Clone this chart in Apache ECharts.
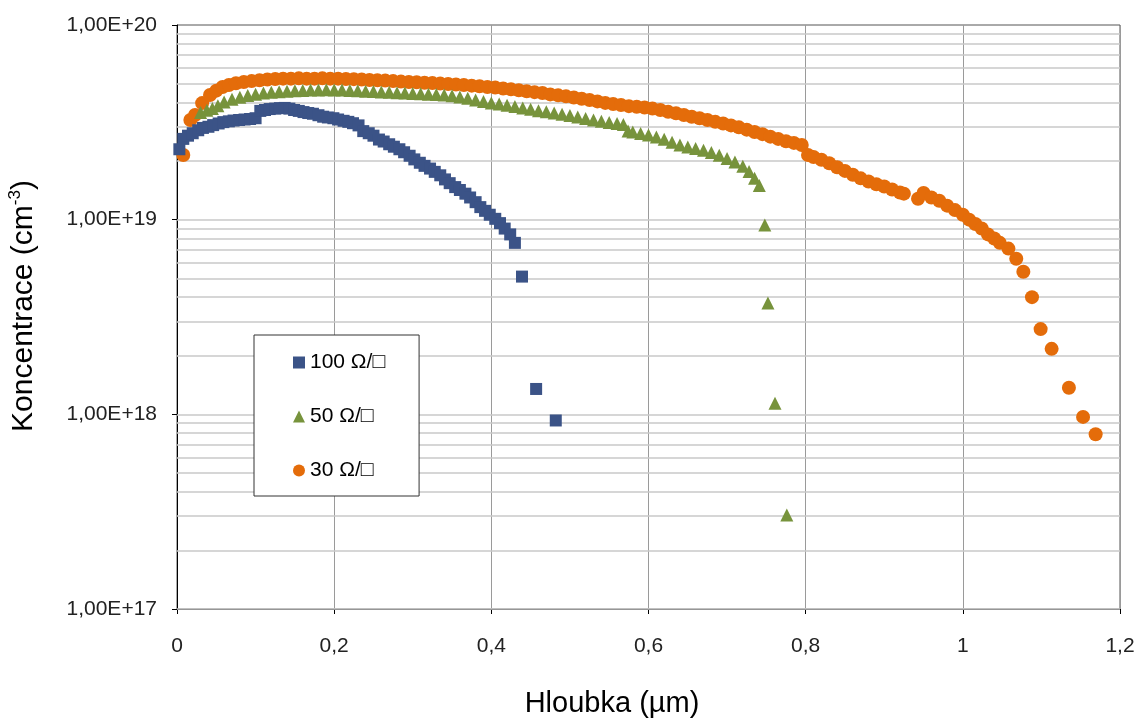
<!DOCTYPE html>
<html>
<head>
<meta charset="utf-8">
<script src="https://cdn.jsdelivr.net/npm/echarts@6/dist/echarts.min.js"></script>
<style>
  html, body { margin: 0; padding: 0; background: #fff; }
  #main { width: 1141px; height: 720px; }
</style>
</head>
<body>
<div id="main"></div>
<script>
// series names
const seriesNames = ['100 Ω/□', '50 Ω/□', '30 Ω/□']

// 100 Ω/□ – depth (µm) and concentration (cm-3)
const depth100 = [0.003, 0.008, 0.014, 0.020, 0.027, 0.033, 0.040, 0.046, 0.053, 0.059, 0.066, 0.072, 0.079, 0.086, 0.093, 0.100,
  0.106, 0.112, 0.118, 0.125, 0.131, 0.137, 0.143, 0.149, 0.155, 0.161, 0.167, 0.173, 0.180, 0.186, 0.192, 0.199, 0.205,
  0.212, 0.218, 0.224, 0.231, 0.237, 0.244, 0.250, 0.257, 0.263, 0.270, 0.276, 0.283, 0.289, 0.296, 0.302, 0.309, 0.315,
  0.322, 0.328, 0.335, 0.341, 0.347, 0.354, 0.360, 0.367, 0.373, 0.380, 0.386, 0.392, 0.398, 0.405, 0.411, 0.417, 0.424,
  0.430, 0.439, 0.457, 0.482]
const conc100 = [2.30e19, 2.60e19, 2.70e19, 2.78e19, 2.88e19, 2.96e19, 3.00e19, 3.06e19, 3.12e19, 3.17e19, 3.20e19, 3.23e19,
  3.25e19, 3.27e19, 3.29e19, 3.32e19, 3.62e19, 3.66e19, 3.70e19, 3.72e19, 3.74e19, 3.75e19, 3.72e19, 3.66e19, 3.62e19,
  3.57e19, 3.53e19, 3.50e19, 3.44e19, 3.38e19, 3.35e19, 3.32e19, 3.27e19, 3.22e19, 3.18e19, 3.13e19, 3.05e19, 2.85e19,
  2.78e19, 2.70e19, 2.58e19, 2.52e19, 2.44e19, 2.37e19, 2.30e19, 2.22e19, 2.13e19, 2.04e19, 1.96e19, 1.89e19, 1.83e19,
  1.76e19, 1.69e19, 1.61e19, 1.54e19, 1.47e19, 1.42e19, 1.36e19, 1.30e19, 1.23e19, 1.16e19, 1.11e19, 1.06e19, 1.01e19,
  9.6e18, 9.0e18, 8.4e18, 7.6e18, 5.1e18, 1.35e18, 9.3e17]

// 50 Ω/□
const depth50 = [0.030, 0.038, 0.045, 0.052, 0.060, 0.070, 0.080, 0.090, 0.100, 0.110, 0.120, 0.130, 0.140, 0.150, 0.160,
  0.170, 0.180, 0.190, 0.200, 0.210, 0.220, 0.230, 0.240, 0.250, 0.260, 0.270, 0.280, 0.290, 0.300, 0.310, 0.320, 0.330,
  0.340, 0.350, 0.360, 0.370, 0.380, 0.390, 0.400, 0.410, 0.420, 0.430, 0.440, 0.450, 0.460, 0.470, 0.480, 0.490, 0.500,
  0.510, 0.520, 0.530, 0.540, 0.550, 0.560, 0.568, 0.574, 0.580, 0.590, 0.600, 0.610, 0.620, 0.630, 0.640, 0.650, 0.660,
  0.670, 0.680, 0.690, 0.700, 0.710, 0.720, 0.728, 0.735, 0.741, 0.748, 0.752, 0.761, 0.776]
const conc50 = [3.55e19, 3.65e19, 3.72e19, 3.85e19, 4.02e19, 4.16e19, 4.26e19, 4.34e19, 4.41e19, 4.47e19, 4.51e19, 4.54e19,
  4.57e19, 4.59e19, 4.61e19, 4.63e19, 4.64e19, 4.65e19, 4.64e19, 4.63e19, 4.61e19, 4.59e19, 4.57e19, 4.55e19, 4.53e19,
  4.51e19, 4.49e19, 4.47e19, 4.45e19, 4.43e19, 4.41e19, 4.39e19, 4.37e19, 4.33e19, 4.27e19, 4.20e19, 4.12e19, 4.05e19,
  3.98e19, 3.93e19, 3.87e19, 3.81e19, 3.75e19, 3.69e19, 3.63e19, 3.58e19, 3.53e19, 3.48e19, 3.43e19, 3.37e19, 3.31e19,
  3.25e19, 3.20e19, 3.16e19, 3.12e19, 3.08e19, 2.85e19, 2.82e19, 2.77e19, 2.72e19, 2.66e19, 2.59e19, 2.50e19, 2.42e19,
  2.36e19, 2.32e19, 2.27e19, 2.21e19, 2.14e19, 2.06e19, 1.98e19, 1.88e19, 1.77e19, 1.63e19, 1.50e19, 9.4e18, 3.73e18,
  1.14e18, 3.04e17]

// 30 Ω/□
const depth30 = [0.008, 0.017, 0.023, 0.032, 0.042, 0.050, 0.058, 0.066, 0.075, 0.085, 0.095, 0.105, 0.115, 0.125, 0.135,
  0.145, 0.155, 0.165, 0.175, 0.185, 0.195, 0.205, 0.215, 0.225, 0.235, 0.245, 0.255, 0.265, 0.275, 0.285, 0.295, 0.305,
  0.315, 0.325, 0.335, 0.345, 0.355, 0.365, 0.375, 0.385, 0.395, 0.405, 0.415, 0.425, 0.435, 0.445, 0.455, 0.465, 0.475,
  0.485, 0.495, 0.505, 0.515, 0.525, 0.535, 0.545, 0.555, 0.565, 0.575, 0.585, 0.595, 0.605, 0.615, 0.625, 0.635, 0.645,
  0.655, 0.665, 0.675, 0.685, 0.695, 0.705, 0.715, 0.725, 0.735, 0.745, 0.755, 0.765, 0.775, 0.785, 0.795, 0.803, 0.810,
  0.820, 0.830, 0.840, 0.850, 0.860, 0.870, 0.880, 0.890, 0.900, 0.910, 0.920, 0.925, 0.943, 0.950, 0.960, 0.970, 0.980,
  0.990, 1.000, 1.008, 1.016, 1.024, 1.032, 1.040, 1.047, 1.058, 1.068, 1.077, 1.088, 1.099, 1.113, 1.135, 1.153, 1.169]
const conc30 = [2.15e19, 3.25e19, 3.45e19, 3.97e19, 4.37e19, 4.60e19, 4.80e19, 4.92e19, 5.02e19, 5.10e19, 5.15e19, 5.20e19,
  5.25e19, 5.28e19, 5.30e19, 5.30e19, 5.32e19, 5.30e19, 5.30e19, 5.32e19, 5.30e19, 5.30e19, 5.28e19, 5.27e19, 5.25e19,
  5.22e19, 5.20e19, 5.18e19, 5.15e19, 5.12e19, 5.10e19, 5.08e19, 5.05e19, 5.03e19, 5.00e19, 4.98e19, 4.95e19, 4.92e19,
  4.88e19, 4.85e19, 4.80e19, 4.77e19, 4.72e19, 4.67e19, 4.62e19, 4.57e19, 4.52e19, 4.47e19, 4.40e19, 4.35e19, 4.30e19,
  4.24e19, 4.18e19, 4.12e19, 4.05e19, 3.98e19, 3.93e19, 3.88e19, 3.83e19, 3.80e19, 3.77e19, 3.72e19, 3.66e19, 3.58e19,
  3.52e19, 3.45e19, 3.38e19, 3.32e19, 3.25e19, 3.18e19, 3.12e19, 3.05e19, 2.98e19, 2.90e19, 2.82e19, 2.75e19, 2.67e19,
  2.60e19, 2.53e19, 2.48e19, 2.42e19, 2.15e19, 2.10e19, 2.03e19, 1.95e19, 1.86e19, 1.78e19, 1.70e19, 1.63e19, 1.57e19,
  1.52e19, 1.48e19, 1.43e19, 1.38e19, 1.36e19, 1.28e19, 1.37e19, 1.30e19, 1.25e19, 1.18e19, 1.12e19, 1.06e19, 1.00e19,
  9.5e18, 9.0e18, 8.4e18, 8.0e18, 7.6e18, 7.1e18, 6.3e18, 5.4e18, 4.0e18, 2.74e18, 2.17e18, 1.37e18, 9.7e17, 7.9e17]

// log grid lines (1..9 x 10^n)
const decades = [17, 18, 19]
const mantissas = [1, 2, 3, 4, 5, 6, 7, 8, 9]

const FONT = '"Liberation Sans", Arial, sans-serif'

function zip(xs, ys) {
  return xs.map((x, i) => [x, ys[i]])
}

const gridValues = []
decades.forEach(d => mantissas.forEach(m => gridValues.push(m * Math.pow(10, d))))

const chartDom = document.getElementById('main')
const myChart = echarts.init(chartDom)
var option
option = {
  backgroundColor: '#fff',
  animation: false,
  textStyle: { fontFamily: FONT },
  grid: {
    left: 177,
    right: 21,
    top: 25,
    bottom: 111,
    show: true,
    borderColor: '#555',
    borderWidth: 1,
  },
  legend: {
    orient: 'vertical',
    left: 254,
    top: 335,
    padding: [17, 34, 15, 39],
    itemGap: 33,
    itemWidth: 12,
    itemHeight: 12,
    backgroundColor: '#fff',
    borderColor: '#333',
    borderWidth: 1,
    borderRadius: 0,
    data: seriesNames,
    textStyle: {
      fontFamily: FONT,
      fontSize: 21,
      lineHeight: 20,
      color: '#000',
    },
  },
  xAxis: {
    type: 'value',
    min: 0,
    max: 1.2,
    interval: 0.2,
    axisLine: { lineStyle: { color: '#000', width: 1 } },
    axisTick: { show: true, length: 5, lineStyle: { color: '#000' } },
    axisLabel: {
      margin: 27,
      fontSize: 21,
      color: '#222',
      fontFamily: FONT,
      formatter: v => String(+v.toFixed(1)).replace('.', ','),
    },
    splitLine: { show: true, lineStyle: { color: '#9a9a9a', width: 1 } },
  },
  yAxis: {
    type: 'log',
    logBase: 10,
    min: 1e17,
    max: 1e20,
    axisLine: { show: true, lineStyle: { color: '#000', width: 1 } },
    axisTick: { show: true, length: 5, lineStyle: { color: '#000' } },
    axisLabel: {
      margin: 20,
      fontSize: 21,
      color: '#222',
      fontFamily: FONT,
      formatter: v => '1,00E+' + Math.round(Math.log10(v)),
    },
    splitLine: { show: false },
  },
  graphic: [
    {
      type: 'text',
      x: 24,
      y: 306,
      rotation: Math.PI / 2,
      style: {
        text: '{a|Koncentrace (cm}{s|-3}{a|)}',
        align: 'center',
        verticalAlign: 'middle',
        rich: {
          a: { fontSize: 30, fontFamily: FONT, fill: '#000', lineHeight: 34 },
          s: { fontSize: 17, fontFamily: FONT, fill: '#000', verticalAlign: 'top', lineHeight: 34 },
        },
      },
    },
    {
      type: 'text',
      x: 612,
      y: 704,
      style: {
        text: 'Hloubka (µm)',
        align: 'center',
        verticalAlign: 'middle',
        fontSize: 29,
        fontFamily: FONT,
        fill: '#000',
      },
    },
  ],
  series: [
    {
      // log grid lines
      name: 'grid',
      type: 'line',
      data: [],
      silent: true,
      markLine: {
        silent: true,
        z: 1,
        symbol: 'none',
        animation: false,
        label: { show: false },
        lineStyle: { color: '#c8c8c8', width: 1.5, type: 'solid' },
        data: gridValues.map(v => ({ yAxis: v })),
      },
    },
    {
      name: seriesNames[0],
      type: 'scatter',
      symbol: 'rect',
      symbolSize: 12,
      z: 4,
      itemStyle: { color: '#3b5387', opacity: 1 },
      data: zip(depth100, conc100),
    },
    {
      name: seriesNames[1],
      type: 'scatter',
      symbol: 'triangle',
      symbolSize: 13,
      z: 3,
      itemStyle: { color: '#77933c', opacity: 1 },
      data: zip(depth50, conc50),
    },
    {
      name: seriesNames[2],
      type: 'scatter',
      symbol: 'circle',
      symbolSize: 14,
      z: 2,
      itemStyle: { color: '#e46c0a', opacity: 1 },
      data: zip(depth30, conc30),
    },
  ],
}
option && myChart.setOption(option)
</script>
</body>
</html>
